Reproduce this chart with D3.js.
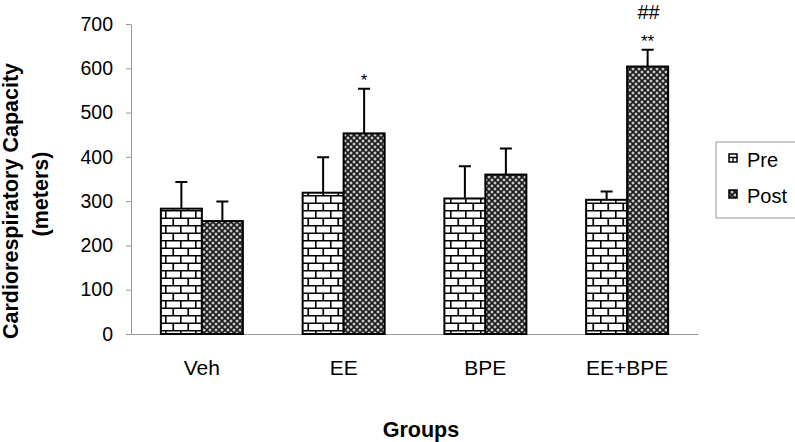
<!DOCTYPE html>
<html><head><meta charset="utf-8">
<script src="https://cdn.jsdelivr.net/npm/d3@7"></script>
<style>body{margin:0;background:#fff}svg{display:block;font-family:"Liberation Sans",Arial,sans-serif}</style>
</head><body><svg id="c" width="795" height="442"></svg>
<script>
const groups = ["Veh", "EE", "BPE", "EE+BPE"];
const series = ["Pre", "Post"];
const preValues = [283, 319, 306, 303];
const preErrors = [343, 399, 379, 322];
const postValues = [255, 453, 360, 604];
const postErrors = [299, 554, 419, 642];
const postMarks = ["", "*", "", "**"];
const postMarks2 = ["", "", "", "##"];
const yTicks = [0, 100, 200, 300, 400, 500, 600, 700];

const svg = d3.select("#c");
const defs = svg.append("defs");
// brick pattern
const pb = defs.append("pattern").attr("id","brick").attr("patternUnits","userSpaceOnUse")
  .attr("width",15).attr("height",15);
pb.append("rect").attr("width",15).attr("height",15).attr("fill","#fff");
pb.append("path").attr("d","M0,0.75H15M0,8.25H15M0.75,0V7.5M8.25,7.5V15")
  .attr("stroke","#000").attr("stroke-width",1.7).attr("fill","none");
// dotted pattern
const pd = defs.append("pattern").attr("id","dots").attr("patternUnits","userSpaceOnUse")
  .attr("width",6).attr("height",6);
pd.append("rect").attr("width",6).attr("height",6).attr("fill","#1a1a1a");
pd.append("path").attr("d","M1.5,3H4.5M3,1.5V4.5M0,0H1.5M0,0V1.5M6,0H4.5M6,0V1.5M0,6H1.5M0,6V4.5M6,6H4.5M6,6V4.5")
  .attr("stroke","#fff").attr("stroke-width",1).attr("fill","none");

const x0 = d3.scaleBand().domain(groups).range([131, 698]).padding(0);
const bw = x0.bandwidth();
const x1 = d3.scaleBand().domain(series).range([bw/2 - 41, bw/2 + 41]).padding(0);
const y = d3.scaleLinear().domain([0, 700]).range([334, 24]);

// y axis
const ya = svg.append("g").attr("transform","translate(131,0)")
  .call(d3.axisLeft(y).tickValues(yTicks).tickSize(5).tickPadding(13).tickSizeOuter(0));
ya.select(".domain").attr("stroke","#999");
ya.selectAll(".tick line").attr("stroke","#999");
ya.selectAll(".tick text").attr("font-size",19.5).attr("fill","#000").attr("font-family","Liberation Sans, Arial");

// x axis
const xa = svg.append("g").attr("transform","translate(0,334)")
  .call(d3.axisBottom(x0).tickSize(0).tickPadding(26).tickSizeOuter(0));
xa.select(".domain").attr("stroke","#999");
xa.selectAll(".tick text").attr("font-size",21).attr("fill","#000").attr("font-family","Liberation Sans, Arial");

const data = groups.map((g,i)=>[
  {g, s:"Pre", v:preValues[i], e:preErrors[i], m:"", m2:""},
  {g, s:"Post", v:postValues[i], e:postErrors[i], m:postMarks[i], m2:postMarks2[i]}
]).flat();

const bars = svg.append("g");
data.forEach(d=>{
  const bx = x0(d.g) + x1(d.s);
  const cx = bx + x1.bandwidth()/2;
  bars.append("path").attr("d",`M${cx},${y(d.v)}V${y(d.e)}M${cx-6},${y(d.e)}H${cx+6}`)
    .attr("stroke","#000").attr("stroke-width",2).attr("fill","none");
  bars.append("rect").attr("x",bx).attr("y",y(d.v)).attr("width",x1.bandwidth()).attr("height",y(0)-y(d.v))
    .attr("fill", d.s==="Pre" ? "url(#brick)" : "url(#dots)")
    .attr("stroke","#000").attr("stroke-width",2);
  if (d.m) bars.append("text").attr("x",cx).attr("y",y(d.e)-3).attr("text-anchor","middle")
    .attr("font-size",17).text(d.m);
  if (d.m2) bars.append("text").attr("x",cx+1).attr("y",y(d.e)-31).attr("text-anchor","middle")
    .attr("font-size",20).text(d.m2);
});

// axis titles
svg.append("text").attr("transform","translate(18,201) rotate(-90)").attr("text-anchor","middle")
  .attr("font-size",21.5).attr("font-weight","bold").text("Cardiorespiratory Capacity");
svg.append("text").attr("transform","translate(48,194) rotate(-90)").attr("text-anchor","middle")
  .attr("font-size",21.5).attr("font-weight","bold").text("(meters)");
svg.append("text").attr("x",421).attr("y",437).attr("text-anchor","middle")
  .attr("font-size",21.5).attr("font-weight","bold").text("Groups");

// legend
const lg = svg.append("g");
lg.append("rect").attr("x",716).attr("y",142).attr("width",90).attr("height",76)
  .attr("fill","#fff").attr("stroke","#999").attr("stroke-width",1);
series.forEach((s,i)=>{
  const ly = [154, 190][i];
  if (s==="Pre") {
    lg.append("rect").attr("x",729).attr("y",ly).attr("width",8).attr("height",8).attr("fill","#fff")
      .attr("stroke","#000").attr("stroke-width",1.5);
    lg.append("path").attr("d",`M729,${ly+3.5}H737M733,${ly+3.5}V${ly+8}`).attr("stroke","#000").attr("stroke-width",1.3);
  } else {
    lg.append("rect").attr("x",729).attr("y",ly).attr("width",8).attr("height",8).attr("fill","url(#dots)")
      .attr("stroke","#000").attr("stroke-width",1.5);
  }
  lg.append("text").attr("x",747).attr("y",ly+13).attr("font-size",20).text(s);
});
</script></body></html>
